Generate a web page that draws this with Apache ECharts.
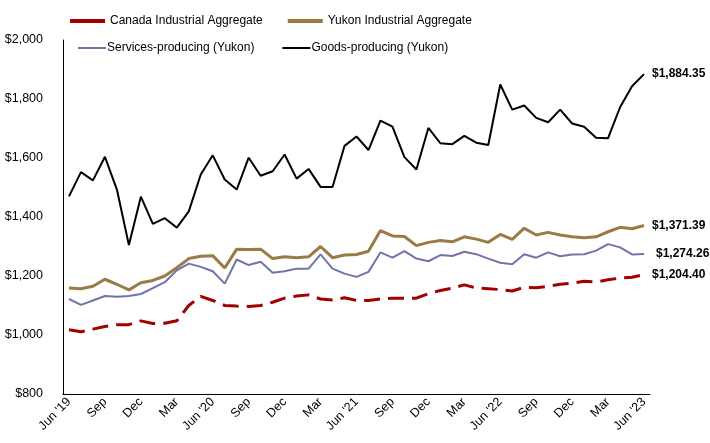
<!DOCTYPE html>
<html>
<head>
<meta charset="utf-8">
<script src="https://cdn.jsdelivr.net/npm/echarts@6/dist/echarts.min.js"></script>
<style>
  html, body { margin: 0; padding: 0; background: #fff; }
  #chart { width: 710px; height: 443px; }
</style>
</head>
<body>
<div id="chart"></div>
<script>
// months, Jun '19 .. Jun '23
const months = [
  "Jun '19", 'Jul', 'Aug', 'Sep', 'Oct', 'Nov', 'Dec', 'Jan', 'Feb', 'Mar', 'Apr', 'May',
  "Jun '20", 'Jul', 'Aug', 'Sep', 'Oct', 'Nov', 'Dec', 'Jan', 'Feb', 'Mar', 'Apr', 'May',
  "Jun '21", 'Jul', 'Aug', 'Sep', 'Oct', 'Nov', 'Dec', 'Jan', 'Feb', 'Mar', 'Apr', 'May',
  "Jun '22", 'Jul', 'Aug', 'Sep', 'Oct', 'Nov', 'Dec', 'Jan', 'Feb', 'Mar', 'Apr', 'May',
  "Jun '23"
];

const canada = [1018, 1011, 1020, 1029, 1035, 1035, 1048, 1039, 1040, 1048,
  1100, 1131, 1117, 1100, 1098, 1097, 1100, 1111, 1125, 1132,
  1136, 1122, 1119, 1126, 1117, 1117, 1122, 1125, 1125, 1125,
  1140, 1151, 1159, 1170, 1159, 1157, 1154, 1149, 1162, 1160,
  1165, 1172, 1176, 1182, 1180, 1187, 1193, 1196, 1204.40];

const yukon = [1159, 1157, 1165, 1189, 1172, 1153, 1177, 1185, 1200, 1228,
  1259, 1267, 1269, 1227, 1291, 1290, 1291, 1259, 1265, 1262,
  1265, 1300, 1262, 1271, 1273, 1284, 1354, 1336, 1334, 1303,
  1314, 1320, 1316, 1333, 1325, 1314, 1341, 1324, 1362, 1339,
  1348, 1339, 1333, 1330, 1333, 1350, 1365, 1360, 1371.39];

const services = [1122, 1102, 1117, 1132, 1130, 1132, 1139, 1159, 1179, 1219,
  1242, 1231, 1216, 1174, 1256, 1237, 1248, 1211, 1216, 1225,
  1225, 1273, 1225, 1208, 1197, 1214, 1280, 1262, 1284, 1259,
  1250, 1271, 1268, 1282, 1274, 1259, 1245, 1240, 1274, 1262,
  1280, 1267, 1273, 1274, 1286, 1308, 1297, 1273, 1274.26];

const goods = [1470, 1552, 1524, 1604, 1493, 1305, 1469, 1377, 1396, 1364,
  1419, 1544, 1609, 1527, 1493, 1601, 1540, 1555, 1612, 1530,
  1563, 1502, 1502, 1641, 1673, 1627, 1727, 1706, 1603, 1561,
  1702, 1650, 1647, 1675, 1652, 1644, 1849, 1764, 1778, 1736,
  1721, 1764, 1717, 1706, 1669, 1667, 1772, 1843, 1884.35];

const font = 'Liberation Sans';
const money = v => '$' + v.toLocaleString('en-US');
const moneyDec = v => '$' + v.toLocaleString('en-US', { minimumFractionDigits: 2, maximumFractionDigits: 2 });

const chart = echarts.init(document.getElementById('chart'), null, { renderer: 'canvas' });

function endLabel() {
  return {
    show: true,
    formatter: p => moneyDec(p.value),
    fontFamily: font,
    fontSize: 12,
    fontWeight: 'bold',
    color: '#000',
    distance: 8
  };
}

chart.setOption({
  backgroundColor: '#ffffff',
  animation: false,
  textStyle: { fontFamily: font },
  legend: [{
    left: 65,
    top: 10,
    icon: 'rect',
    itemWidth: 35,
    itemHeight: 4,
    itemGap: 25,
    textStyle: { fontFamily: font, fontSize: 12, color: '#000' },
    data: ['Canada Industrial Aggregate', 'Yukon Industrial Aggregate']
  }, {
    left: 73,
    top: 37,
    icon: 'rect',
    itemWidth: 28,
    itemHeight: 2,
    itemGap: 28,
    textStyle: { fontFamily: font, fontSize: 12, color: '#000', padding: [0, 0, 0, -4] },
    data: ['Services-producing (Yukon)', 'Goods-producing (Yukon)']
  }],
  grid: {
    left: 63,
    right: 60,
    top: 40,
    bottom: 49
  },
  xAxis: {
    type: 'category',
    data: months,
    boundaryGap: true,
    axisLine: { lineStyle: { color: '#000', width: 1 } },
    axisTick: { show: false },
    axisLabel: {
      interval: 2,
      rotate: 45,
      fontFamily: font,
      fontSize: 12.5,
      color: '#000',
      margin: 6
    }
  },
  yAxis: {
    type: 'value',
    min: 800,
    max: 2000,
    interval: 200,
    splitLine: { show: false },
    axisLine: { show: true, lineStyle: { color: '#000', width: 1 } },
    axisTick: { show: false },
    axisLabel: {
      formatter: money,
      fontFamily: font,
      fontSize: 12.5,
      color: '#000',
      margin: 20
    }
  },
  series: [{
    name: 'Canada Industrial Aggregate',
    type: 'line',
    data: canada,
    symbol: 'none',
    color: '#a30000',
    lineStyle: { width: 3, type: [16, 8], color: '#a30000' },
    endLabel: endLabel()
  }, {
    name: 'Yukon Industrial Aggregate',
    type: 'line',
    data: yukon,
    symbol: 'none',
    color: '#9a7b45',
    lineStyle: { width: 3, color: '#9a7b45' },
    endLabel: endLabel()
  }, {
    name: 'Services-producing (Yukon)',
    type: 'line',
    data: services,
    symbol: 'none',
    color: '#7373aa',
    lineStyle: { width: 2, color: '#7373aa' },
    endLabel: Object.assign(endLabel(), { distance: 12 })
  }, {
    name: 'Goods-producing (Yukon)',
    type: 'line',
    data: goods,
    symbol: 'none',
    color: '#000000',
    lineStyle: { width: 2, color: '#000000' },
    endLabel: endLabel()
  }]
});
</script>
</body>
</html>
